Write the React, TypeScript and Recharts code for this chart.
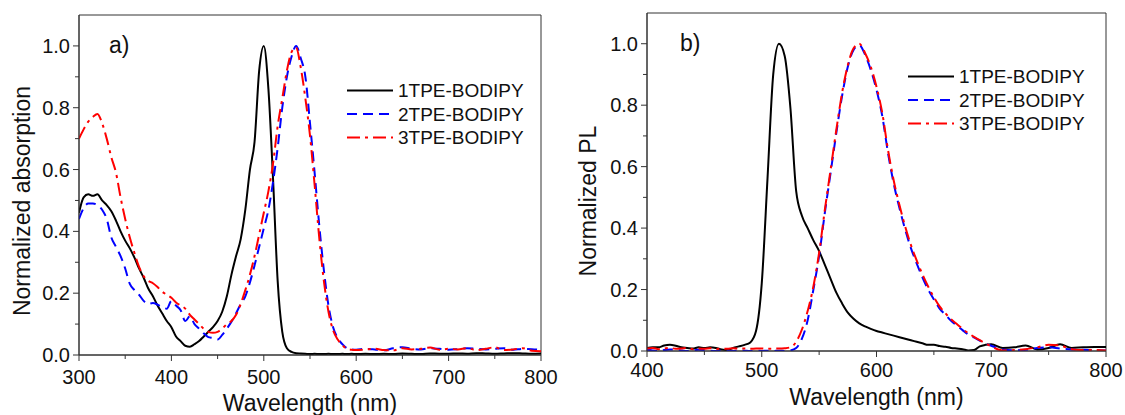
import React from 'react';
import { LineChart, Line, XAxis, YAxis, ReferenceArea, Legend, Label, Customized } from 'recharts';

// ---- panel a) absorption ----
const absWavelength = [
  300, 305, 310, 315, 320, 325, 330, 335, 340, 345, 350, 355, 360, 365, 370, 375, 380, 385, 390, 395,
  400, 405, 410, 415, 420, 425, 430, 435, 440, 445, 450, 455, 460, 465, 470, 475, 480, 485, 490, 495,
  500, 505, 510, 515, 520, 525, 530, 535, 540, 545, 550, 555, 560, 565, 570, 575, 580, 585, 590, 595,
  600, 610, 620, 630, 640, 650, 660, 670, 680, 690, 700, 710, 720, 730, 740, 750, 760, 770, 780, 790, 800,
];
const abs1TPE = [
  0.46, 0.51, 0.52, 0.515, 0.52, 0.5, 0.485, 0.465, 0.435, 0.4, 0.37, 0.345, 0.315, 0.28, 0.25, 0.215, 0.19, 0.16, 0.135, 0.11,
  0.09, 0.06, 0.045, 0.03, 0.027, 0.035, 0.045, 0.06, 0.075, 0.09, 0.11, 0.14, 0.19, 0.26, 0.32, 0.375, 0.47, 0.6, 0.69, 0.92,
  1.0, 0.86, 0.57, 0.24, 0.075, 0.022, 0.01, 0.006, 0.005, 0.004, 0.003, 0.004, 0.003, 0.003, 0.004, 0.003, 0.003, 0.004, 0.003, 0.004,
  0.003, 0.004, 0.003, 0.004, 0.003, 0.005, 0.004, 0.003, 0.005, 0.004, 0.004, 0.005, 0.004, 0.006, 0.005, 0.004, 0.005, 0.006, 0.005, 0.004, 0.005,
];
const abs2TPE = [
  0.44, 0.475, 0.49, 0.49, 0.485, 0.47, 0.44, 0.38, 0.35, 0.32, 0.28, 0.23, 0.21, 0.195, 0.175, 0.165, 0.168, 0.163, 0.155, 0.15,
  0.175, 0.16, 0.145, 0.11, 0.125, 0.1, 0.085, 0.07, 0.058, 0.055, 0.05, 0.065, 0.085, 0.108, 0.135, 0.165, 0.19, 0.235, 0.29, 0.35,
  0.41, 0.47, 0.56, 0.67, 0.8, 0.9, 0.965, 1.0, 0.96, 0.9, 0.75, 0.59, 0.42, 0.275, 0.16, 0.09, 0.055, 0.035, 0.022, 0.018,
  0.017, 0.02, 0.018, 0.015, 0.022, 0.025, 0.02, 0.018, 0.022, 0.02, 0.017, 0.019, 0.022, 0.02, 0.018, 0.02, 0.022, 0.017, 0.02, 0.019, 0.016,
];
const abs3TPE = [
  0.7, 0.73, 0.755, 0.77, 0.78, 0.75, 0.7, 0.64, 0.59, 0.51, 0.44, 0.38, 0.33, 0.285, 0.255, 0.24, 0.232, 0.22, 0.205, 0.195,
  0.185, 0.17, 0.16, 0.15, 0.13, 0.115, 0.1, 0.085, 0.075, 0.072, 0.075, 0.085, 0.1, 0.11, 0.13, 0.165, 0.21, 0.26, 0.32, 0.39,
  0.46, 0.53, 0.62, 0.74, 0.83, 0.92, 0.98, 0.995, 0.93, 0.83, 0.71, 0.55, 0.38, 0.24, 0.14, 0.08, 0.05, 0.032, 0.02, 0.017,
  0.016, 0.018, 0.02, 0.016, 0.015, 0.022, 0.018, 0.02, 0.024, 0.017, 0.02, 0.018, 0.022, 0.016, 0.02, 0.025, 0.016, 0.018, 0.022, 0.014, 0.012,
];

// ---- panel b) photoluminescence ----
const plWavelength = [
  400, 405, 410, 415, 420, 425, 430, 435, 440, 445, 450, 455, 460, 465, 470, 475, 480, 485, 490, 495,
  500, 505, 510, 515, 520, 525, 530, 535, 540, 545, 550, 555, 560, 565, 570, 575, 580, 585, 590, 595,
  600, 605, 610, 615, 620, 625, 630, 635, 640, 645, 650, 655, 660, 665, 670, 675, 680, 685, 690, 695,
  700, 710, 720, 730, 740, 750, 760, 770, 780, 790, 800,
];
const pl1TPE = [
  0.01, 0.012, 0.012, 0.018, 0.02, 0.017, 0.012, 0.01, 0.008, 0.012, 0.01, 0.012, 0.01, 0.005, 0.003, 0.01, 0.015, 0.02, 0.028, 0.065,
  0.22, 0.56, 0.9, 1.0, 0.96, 0.79, 0.52, 0.44, 0.4, 0.36, 0.325, 0.28, 0.235, 0.19, 0.155, 0.125, 0.105, 0.09, 0.08, 0.072,
  0.065, 0.06, 0.055, 0.05, 0.045, 0.04, 0.035, 0.03, 0.025, 0.02, 0.02, 0.016, 0.014, 0.01, 0.008, 0.006, 0.002, 0.003, 0.015, 0.02,
  0.022, 0.01, 0.012, 0.018, 0.005, 0.01, 0.022, 0.01, 0.012, 0.013, 0.013,
];
const pl2TPE = [
  0.004, 0.002, 0.0, 0.003, 0.005, 0.004, 0.002, 0.0, 0.002, 0.004, 0.003, 0.001, 0.0, 0.002, 0.001, 0.0, 0.002, 0.001, 0.0, 0.001,
  0.0, 0.001, 0.0, 0.001, 0.0, 0.002, 0.01, 0.04, 0.1, 0.2, 0.31, 0.45, 0.58, 0.71, 0.83, 0.925, 0.98, 0.995, 0.965, 0.915,
  0.85, 0.765, 0.645, 0.545, 0.465, 0.395, 0.335, 0.285, 0.24, 0.2, 0.168, 0.138, 0.118, 0.098, 0.083, 0.068, 0.054, 0.044, 0.034, 0.024,
  0.017, 0.005, 0.002, 0.004, 0.01, 0.012, 0.008, 0.005, 0.004, 0.003, 0.002,
];
const pl3TPE = [
  0.008, 0.01, 0.006, 0.008, 0.01, 0.007, 0.008, 0.01, 0.006, 0.008, 0.007, 0.009, 0.006, 0.008, 0.007, 0.009, 0.008, 0.008, 0.007, 0.008,
  0.008, 0.007, 0.008, 0.008, 0.009, 0.012, 0.03, 0.07, 0.13, 0.21, 0.32, 0.46, 0.59, 0.72, 0.84, 0.93, 0.985, 1.0, 0.97, 0.925,
  0.86, 0.775, 0.655, 0.555, 0.475, 0.405, 0.345, 0.295, 0.25, 0.21, 0.175, 0.145, 0.123, 0.103, 0.088, 0.072, 0.058, 0.046, 0.035, 0.025,
  0.015, 0.002, 0.003, 0.006, 0.012, 0.02, 0.018, 0.006, 0.003, 0.003, 0.002,
];

const seriesNames = ['1TPE-BODIPY', '2TPE-BODIPY', '3TPE-BODIPY'];
const absXTicks = [300, 350, 400, 450, 500, 550, 600, 650, 700, 750, 800];
const plXTicks = [400, 450, 500, 550, 600, 650, 700, 750, 800];
const yTicks = [0, 0.1, 0.2, 0.3, 0.4, 0.5, 0.6, 0.7, 0.8, 0.9, 1.0];

const COLORS = ['#000000', '#0000ff', '#ff0000'];
const DASHES = [undefined, '10 6', '13 5 3 5'];
const KEYS = ['s1', 's2', 's3'];
const FONT = '"Liberation Sans", Arial, sans-serif';
const INK = '#111';
const AXIS = '#333';

const absData = absWavelength.map((w, i) => ({ w, s1: abs1TPE[i], s2: abs2TPE[i], s3: abs3TPE[i] }));
const plData = plWavelength.map((w, i) => ({ w, s1: pl1TPE[i], s2: pl2TPE[i], s3: pl3TPE[i] }));

const xTick = (baseline: number) => (props: any) => {
  const { x, y, payload } = props;
  const major = payload.value % 100 === 0;
  return (
    <g>
      <line x1={x} y1={y} x2={x} y2={y + (major ? 6 : 4)} stroke={AXIS} />
      {major && (
        <text x={x} y={y + baseline} textAnchor="middle" fontSize={20} fill={INK} fontFamily={FONT}>
          {payload.value}
        </text>
      )}
    </g>
  );
};

const yTick = (props: any) => {
  const { x, y, payload } = props;
  const major = Math.round(payload.value * 10) % 2 === 0;
  return (
    <g>
      <line x1={x - (major ? 6 : 4)} y1={y} x2={x} y2={y} stroke={AXIS} />
      {major && (
        <text x={x - 9} y={y + 7} textAnchor="end" fontSize={20} fill={INK} fontFamily={FONT}>
          {payload.value.toFixed(1)}
        </text>
      )}
    </g>
  );
};

const yTitle = (text: string, cx: number, cy: number) => () => (
  <text
    x={cx}
    y={cy}
    transform={`rotate(-90, ${cx}, ${cy})`}
    dy={8}
    textAnchor="middle"
    fontSize={23}
    fill={INK}
    fontFamily={FONT}
  >
    {text}
  </text>
);

const legendContent = () => (
  <svg width={200} height={75}>
    {seriesNames.map((name, i) => {
      const cy = 15.5 + i * 23.5;
      return (
        <g key={name}>
          <line x1={7} x2={53} y1={cy} y2={cy} stroke={COLORS[i]} strokeWidth={2} strokeDasharray={DASHES[i]} />
          <text x={58} y={cy + 6.8} fontSize={19} fill={INK} fontFamily={FONT}>
            {name}
          </text>
        </g>
      );
    })}
  </svg>
);

const Panel: React.FC<{
  data: typeof absData;
  domain: [number, number];
  ticks: number[];
  yLabel: string;
  tag: string;
  tagX: number;
  tagY: number;
  yAxisWidth: number;
  top: number;
  xAxisHeight: number;
  tickBaseline: number;
  xTitleOffset: number;
  yTitleX: number;
  legendLeft: number;
  legendTop: number;
}> = (p) => (
  <LineChart
    width={560}
    height={415}
    data={p.data}
    margin={{ top: p.top, right: 19, bottom: 0, left: 0 }}
  >
    <ReferenceArea x1={p.domain[0]} x2={p.domain[1]} y1={0} y2={1.1} fill="none" stroke={AXIS} strokeWidth={1} />
    <XAxis
      dataKey="w"
      type="number"
      domain={p.domain}
      ticks={p.ticks}
      interval={0}
      height={p.xAxisHeight}
      stroke={AXIS}
      tickLine={false}
      tickSize={0}
      tickMargin={0}
      tick={xTick(p.tickBaseline)}
      allowDataOverflow
    >
      <Label
        value="Wavelength (nm)"
        position="insideBottom"
        offset={p.xTitleOffset}
        style={{ fontSize: 23, fill: INK, fontFamily: FONT }}
      />
    </XAxis>
    <YAxis
      type="number"
      domain={[0, 1.1]}
      ticks={yTicks}
      interval={0}
      width={p.yAxisWidth}
      stroke={AXIS}
      tickLine={false}
      tickSize={0}
      tickMargin={0}
      tick={yTick}
      allowDataOverflow
    >
      <Label content={yTitle(p.yLabel, p.yTitleX, 201)} />
    </YAxis>
    {KEYS.map((k, i) => (
      <Line
        key={k}
        dataKey={k}
        name={seriesNames[i]}
        type="monotone"
        stroke={COLORS[i]}
        strokeWidth={2}
        strokeDasharray={DASHES[i]}
        dot={false}
        isAnimationActive={false}
      />
    ))}
    <Legend
      layout="vertical"
      align="center"
      verticalAlign="middle"
      content={legendContent}
      wrapperStyle={{ left: p.legendLeft, top: p.legendTop, width: 200 }}
    />
    <Customized
      component={() => (
        <text x={p.tagX} y={p.tagY} fontSize={23} fill={INK} fontFamily={FONT}>
          {p.tag}
        </text>
      )}
    />
  </LineChart>
);

export default function App() {
  return (
    <div style={{ position: 'absolute', left: 0, top: 0, width: 1125, height: 415, background: '#fff' }}>
      <div style={{ position: 'absolute', left: 0, top: 0 }}>
        <Panel
          data={absData}
          domain={[300, 800]}
          ticks={absXTicks}
          yLabel="Normalized absorption"
          tag="a)"
          tagX={109}
          tagY={53}
          yAxisWidth={79}
          top={15}
          xAxisHeight={60}
          tickBaseline={28.5}
          xTitleOffset={4}
          yTitleX={22}
          legendLeft={340}
          legendTop={75}
        />
      </div>
      <div style={{ position: 'absolute', left: 565, top: 0 }}>
        <Panel
          data={plData}
          domain={[400, 800]}
          ticks={plXTicks}
          yLabel="Normalized PL"
          tag="b)"
          tagX={115}
          tagY={51}
          yAxisWidth={82}
          top={13}
          xAxisHeight={64}
          tickBaseline={25.5}
          xTitleOffset={10}
          yTitleX={23}
          legendLeft={336}
          legendTop={61}
        />
      </div>
    </div>
  );
}
